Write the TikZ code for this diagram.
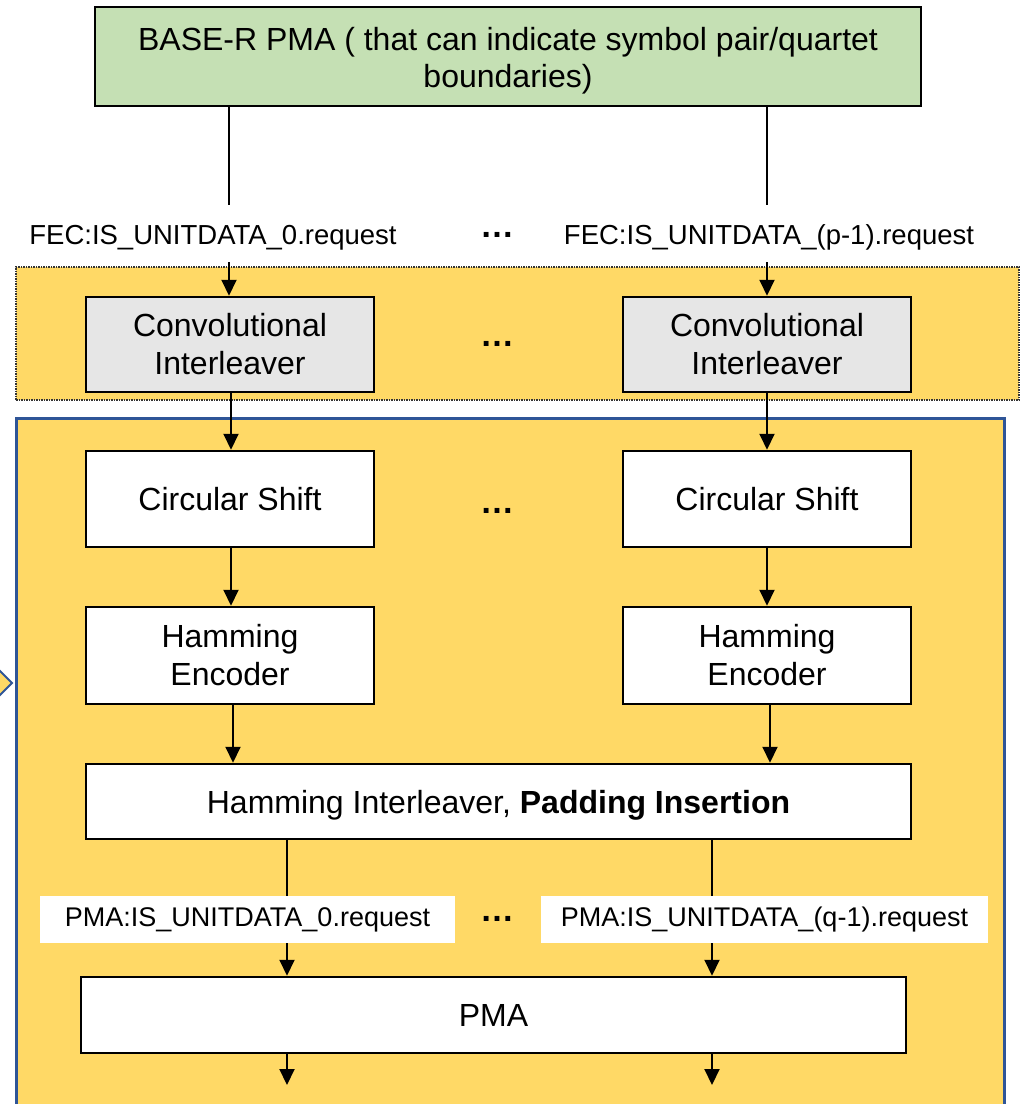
\documentclass[tikz,border=0pt]{standalone}
\usepackage{fontspec}
\setmainfont{Liberation Sans}
\usetikzlibrary{arrows.meta}
\definecolor{gold}{HTML}{FFD966}
\definecolor{lgreen}{HTML}{C5E0B4}
\definecolor{lgray}{HTML}{E6E6E6}
\definecolor{bblue}{HTML}{2F5597}
\tikzset{
 blk/.style={draw=black, line width=2.5pt, fill=white, minimum width=288pt, minimum height=96pt, align=center, font=\fontsize{32}{38}\selectfont, inner sep=0pt},
 lbl/.style={font=\fontsize{27.5}{32}\selectfont, inner sep=0pt},
 lblbox/.style={fill=white, minimum height=47pt, inner sep=0pt, font=\fontsize{27}{32}\selectfont},
 arr/.style={line width=2pt, -{Triangle[width=15pt,length=16pt]}},
 ln/.style={line width=2pt},
 dotsn/.style={font=\fontsize{34}{34}\selectfont\bfseries, inner sep=0pt},
}
\begin{document}
\begin{tikzpicture}[x=1pt,y=-1pt]
\clip (0,0) rectangle (1026,1104);
\fill[white] (0,0) rectangle (1026,1104);
% regions
\node[fill=gold, draw=black!80, densely dotted, line width=1.5pt, minimum width=1003pt, minimum height=133pt, inner sep=0pt] (topreg) at (517.5,333.5) {};
\filldraw[fill=gold, draw=bblue, line width=3pt] (16,1115) -- (16,418) -- (1004,418) -- (1004,1115);
\filldraw[fill=gold, draw=bblue, line width=2pt] (-5,666) -- (12,683) -- (-5,700);
% boxes
\node[blk, fill=lgreen, minimum width=826pt, minimum height=99pt] (g) at (508,56.5) {};
\node[align=center, font=\fontsize{32}{37}\selectfont, inner sep=0pt] (gt) at (508,61) {BASE-R PMA ( that can indicate symbol pair/quartet\\boundaries)};
\node[blk, fill=lgray, minimum height=95pt] (c1) at (230,344.5) {Convolutional\\Interleaver};
\node[blk, fill=lgray, minimum height=95pt] (c2) at (767,344.5) {Convolutional\\Interleaver};
\node[blk] (s1) at (230,499) {Circular Shift};
\node[blk] (s2) at (767,499) {Circular Shift};
\node[blk, minimum height=97pt] (h1) at (230,655.5) {Hamming\\Encoder};
\node[blk, minimum height=97pt] (h2) at (767,655.5) {Hamming\\Encoder};
\node[blk, minimum width=825pt, minimum height=75pt, text depth=0pt] (hi) at (498.5,801.5) {Hamming Interleaver, \textbf{Padding Insertion}};
\node[blk, minimum width=825pt, minimum height=76pt, text depth=0pt] (pma) at (493.5,1015) {PMA};
% top labels
\node[lbl, anchor=base] (f1) at (213,244) {FEC:IS\_UNITDATA\_0.request};
\node[lbl, anchor=base] (f2) at (769,244) {FEC:IS\_UNITDATA\_(p-1).request};
\node[dotsn] (d1) at (497,235) {…};
\node[dotsn] (d2) at (497,344) {…};
\node[dotsn] (d3) at (497,511) {…};
\node[dotsn] (d4) at (497,919) {…};
% coordinates
\coordinate (xb) at (767,0);
\coordinate (a1) at (229,205);
\coordinate (b1) at (229,262);
\coordinate (a2) at (767,205);
\coordinate (b2) at (767,262);
\coordinate (xc) at (231,0);
\coordinate (xd) at (233,0);
\coordinate (xe) at (770,0);
\coordinate (xp) at (287,0);
\coordinate (xq) at (712,0);
\coordinate (e1) at (287,1085);
\coordinate (e2) at (712,1085);
% connectors
\draw[ln] (g.south -| a1) -- (a1);
\draw[ln] (g.south -| a2) -- (a2);
\draw[arr] (b1) -- (c1.north -| b1);
\draw[arr] (b2) -- (c2.north -| b2);
\draw[arr] (c1.south -| xc) -- (s1.north -| xc);
\draw[arr] (c2.south -| xb) -- (s2.north -| xb);
\draw[arr] (s1.south -| xc) -- (h1.north -| xc);
\draw[arr] (s2.south -| xb) -- (h2.north -| xb);
\draw[arr] (h1.south -| xd) -- (hi.north -| xd);
\draw[arr] (h2.south -| xe) -- (hi.north -| xe);
\draw[arr] (hi.south -| xp) -- (pma.north -| xp);
\draw[arr] (hi.south -| xq) -- (pma.north -| xq);
\draw[arr] (pma.south -| xp) -- (e1);
\draw[arr] (pma.south -| xq) -- (e2);
% bottom labels (cover lines)
\node[lblbox, minimum width=415pt] (p1) at (247.5,919.5) {PMA:IS\_UNITDATA\_0.request};
\node[lblbox, minimum width=447pt] (p2) at (764.5,919.5) {PMA:IS\_UNITDATA\_(q-1).request};
\end{tikzpicture}
\end{document}
